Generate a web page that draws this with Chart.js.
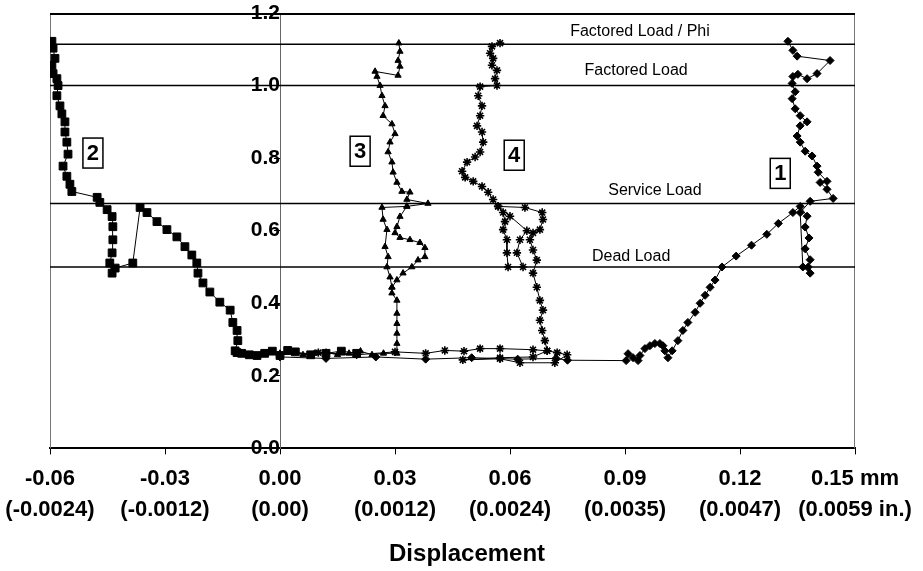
<!DOCTYPE html>
<html>
<head>
<meta charset="utf-8">
<script src="https://cdn.jsdelivr.net/npm/chart.js@4.4.1/dist/chart.umd.min.js"></script>
<style>
  body { margin: 0; background: #fff; }
  #wrap { width: 923px; height: 571px; }
</style>
</head>
<body>
<div id="wrap"><canvas id="load-chart" width="923" height="571"></canvas></div>
<script>
// tick labels
const xTickMm = ['-0.06', '-0.03', '0.00', '0.03', '0.06', '0.09', '0.12', '0.15 mm'];
const xTickIn = ['(-0.0024)', '(-0.0012)', '(0.00)', '(0.0012)', '(0.0024)', '(0.0035)', '(0.0047)', '(0.0059 in.)'];
const yTickLabels = ['0.0', '0.2', '0.4', '0.6', '0.8', '1.0', '1.2'];
const xTitle = 'Displacement';

// load levels (horizontal lines)
const loadNames = ['Factored Load / Phi', 'Factored Load', 'Service Load', 'Dead Load'];
const loadValues = [1.114, 1.0, 0.675, 0.5];
const loadLabelX = [0.0939, 0.0929, 0.0978, 0.0916];
const loadLabelY = [1.150, 1.042, 0.711, 0.528];

// gauge tags
const tagNames = ['1', '2', '3', '4'];
const tagX = [0.1305, -0.0488, 0.0209, 0.0611];
const tagY = [0.758, 0.814, 0.819, 0.808];

// gauge 1 (diamonds) [displacement mm, load ratio]
const gauge1 = [[0.000,0.252],[0.012,0.248],[0.025,0.252],[0.038,0.246],[0.050,0.250],[0.062,0.246],[0.072,0.248],[0.075,0.243],
  [0.0903,0.242],[0.0908,0.261],[0.0921,0.250],[0.0934,0.242],[0.0939,0.256],[0.0952,0.275],[0.0965,0.283],[0.0978,0.289],
  [0.0991,0.289],[0.0999,0.283],[0.1004,0.269],[0.1012,0.250],[0.1023,0.269],[0.1038,0.297],[0.1051,0.325],[0.1064,0.347],
  [0.1083,0.375],[0.1096,0.400],[0.1109,0.422],[0.1122,0.444],[0.1135,0.464],[0.1153,0.500],[0.1190,0.530],[0.1230,0.560],
  [0.1270,0.590],[0.1300,0.620],[0.1338,0.650],[0.1357,0.667],[0.1375,0.640],[0.1370,0.610],[0.1380,0.580],[0.1370,0.550],
  [0.1383,0.520],[0.1378,0.500],[0.1383,0.483],[0.1364,0.500],[0.1357,0.650],[0.1383,0.681],[0.1443,0.689],[0.1427,0.714],
  [0.1409,0.733],[0.1427,0.736],[0.1404,0.761],[0.1401,0.778],[0.1388,0.806],[0.1370,0.819],[0.1357,0.844],[0.1349,0.861],
  [0.1357,0.889],[0.1375,0.900],[0.1357,0.917],[0.1344,0.936],[0.1336,0.964],[0.1344,0.983],[0.1336,1.006],[0.1338,1.025],
  [0.1351,1.031],[0.1375,1.019],[0.1401,1.033],[0.1435,1.069],[0.1349,1.081],[0.1338,1.097],[0.1325,1.122]];

// gauge 2 (squares)
const gauge2 = [[0.020,0.262],[0.016,0.268],[0.012,0.262],[0.008,0.258],[0.004,0.266],[0.002,0.270],[0.000,0.256],
  [-0.002,0.268],[-0.004,0.262],[-0.006,0.256],[-0.008,0.258],[-0.010,0.262],[-0.0112,0.264],
  [-0.0117,0.269],[-0.0110,0.297],[-0.0112,0.325],[-0.0123,0.347],[-0.0130,0.381],[-0.0157,0.403],[-0.0183,0.431],
  [-0.0201,0.456],[-0.0214,0.483],[-0.0217,0.511],[-0.0230,0.533],[-0.0248,0.556],[-0.0269,0.583],[-0.0295,0.603],
  [-0.0321,0.625],[-0.0347,0.650],[-0.0365,0.664],[-0.0384,0.511],[-0.0430,0.497],[-0.0438,0.483],[-0.0444,0.511],
  [-0.0438,0.539],[-0.0436,0.575],[-0.0436,0.611],[-0.0438,0.639],[-0.0451,0.658],[-0.0470,0.678],[-0.0477,0.692],
  [-0.0543,0.708],[-0.0548,0.728],[-0.0556,0.750],[-0.0566,0.778],[-0.0553,0.811],[-0.0556,0.844],[-0.0561,0.872],
  [-0.0561,0.900],[-0.0569,0.922],[-0.0574,0.944],[-0.0582,0.972],[-0.0579,1.000],[-0.0582,1.019],[-0.0592,1.033],
  [-0.0595,1.056],[-0.0587,1.075],[-0.0592,1.103],[-0.0595,1.122]];

// gauge 3 (triangles), main path and the side branch
const gauge3 = [[0.000,0.262],[0.003,0.268],[0.006,0.258],[0.009,0.262],[0.012,0.265],[0.015,0.258],[0.018,0.262],
  [0.021,0.268],[0.024,0.258],[0.027,0.262],[0.0305,0.262],[0.0305,0.289],
  [0.0305,0.317],[0.0305,0.344],[0.0305,0.372],[0.0305,0.408],[0.0292,0.428],[0.0292,0.444],[0.0305,0.464],[0.0321,0.483],
  [0.0344,0.500],[0.0360,0.519],[0.0378,0.528],[0.0378,0.553],[0.0365,0.567],[0.0339,0.575],[0.0313,0.581],[0.0300,0.594],
  [0.0305,0.611],[0.0313,0.639],[0.0331,0.667],[0.0386,0.675],[0.0331,0.686],[0.0339,0.706],[0.0318,0.708],[0.0305,0.733],
  [0.0295,0.761],[0.0292,0.789],[0.0282,0.817],[0.0287,0.844],[0.0300,0.867],[0.0292,0.894],[0.0269,0.917],[0.0274,0.944],
  [0.0266,0.972],[0.0261,1.000],[0.0253,1.025],[0.0248,1.039],[0.0308,1.028],[0.0313,1.053],[0.0308,1.069],[0.0313,1.094],
  [0.0310,1.117]];
const gauge3Branch = [[0.0292,0.444],[0.0287,0.472],[0.0279,0.500],[0.0282,0.528],[0.0274,0.556],[0.0279,0.603],
  [0.0269,0.631],[0.0266,0.664],[0.0331,0.667]];

// gauge 4 (stars)
const gauge4 = [[0.000,0.258],[0.010,0.264],[0.020,0.258],[0.030,0.266],[0.038,0.262],[0.043,0.270],[0.048,0.268],
  [0.0522,0.275],[0.0574,0.275],[0.0660,0.272],[0.0697,0.269],[0.0723,0.264],[0.0749,0.258],[0.0717,0.236],[0.0626,0.236],
  [0.0574,0.247],[0.0477,0.244],[0.0574,0.250],[0.0660,0.252],[0.0697,0.269],[0.0691,0.297],[0.0684,0.325],[0.0678,0.353],
  [0.0686,0.381],[0.0678,0.408],[0.0670,0.444],[0.0660,0.483],[0.0670,0.519],[0.0660,0.547],[0.0652,0.575],[0.0660,0.594],
  [0.0678,0.603],[0.0686,0.631],[0.0684,0.650],[0.0639,0.664],[0.0569,0.667],[0.0582,0.650],[0.0587,0.625],[0.0582,0.603],
  [0.0592,0.575],[0.0592,0.539],[0.0595,0.500],[0.0634,0.500],[0.0618,0.539],[0.0626,0.575],[0.0644,0.600],[0.0600,0.640],
  [0.0569,0.667],[0.0556,0.686],[0.0543,0.706],[0.0527,0.722],[0.0504,0.736],[0.0483,0.747],[0.0475,0.764],[0.0488,0.789],
  [0.0509,0.803],[0.0522,0.817],[0.0530,0.844],[0.0527,0.872],[0.0514,0.889],[0.0522,0.917],[0.0527,0.944],[0.0517,0.972],
  [0.0522,0.997],[0.0566,1.000],[0.0561,1.019],[0.0566,1.042],[0.0553,1.056],[0.0556,1.075],[0.0548,1.089],[0.0553,1.108],
  [0.0574,1.117]];

const FONT = '"Liberation Sans", Arial, sans-serif';
const X_MIN = -0.06, X_MAX = 0.15;

function toPoints(arr) {
    return arr.map(p => ({ x: p[0], y: p[1] }));
}

function gaugeSet(arr, style, radius) {
    return {
        data: toPoints(arr),
        showLine: true,
        borderColor: '#000',
        backgroundColor: '#000',
        borderWidth: 1,
        pointStyle: style,
        pointRadius: radius,
        pointBorderWidth: style === 'star' ? 1.6 : 1,
        pointBorderColor: '#000',
        pointBackgroundColor: '#000',
        tension: 0
    };
}

const datasets = [];
loadValues.forEach(v => {
    datasets.push({
        data: [{ x: X_MIN, y: v }, { x: X_MAX, y: v }],
        showLine: true,
        borderColor: '#000',
        borderWidth: 1.5,
        pointRadius: 0
    });
});
datasets.push(gaugeSet(gauge1, 'rectRot', 4));
datasets.push(gaugeSet(gauge2, 'rect', 5.5));
datasets.push(gaugeSet(gauge3, 'triangle', 3.6));
datasets.push(gaugeSet(gauge3Branch, 'triangle', 3.6));
datasets.push(gaugeSet(gauge4, 'star', 4.2));

// frame round the plot and the text annotations
const framePlugin = {
    id: 'frame',
    beforeDatasetsDraw(chart) {
        const { ctx, chartArea: a } = chart;
        ctx.save();
        ctx.strokeStyle = '#777';
        ctx.lineWidth = 1;
        ctx.beginPath();
        ctx.moveTo(a.left + 0.5, a.bottom);
        ctx.lineTo(a.left + 0.5, a.top);
        ctx.moveTo(a.right - 0.5, a.top);
        ctx.lineTo(a.right - 0.5, a.bottom);
        ctx.stroke();
        ctx.strokeStyle = '#000';
        ctx.lineWidth = 2;
        ctx.beginPath();
        ctx.moveTo(a.left, a.top + 1);
        ctx.lineTo(a.right, a.top + 1);
        ctx.stroke();
        ctx.restore();
    },
    afterDatasetsDraw(chart) {
        const { ctx, scales } = chart;
        const xs = scales.x, ys = scales.y;
        ctx.save();
        ctx.fillStyle = '#000';
        ctx.textAlign = 'center';
        ctx.textBaseline = 'middle';
        ctx.font = '16px ' + FONT;
        loadNames.forEach((name, i) => {
            ctx.fillText(name, xs.getPixelForValue(loadLabelX[i]), ys.getPixelForValue(loadLabelY[i]));
        });
        ctx.font = 'bold 22px ' + FONT;
        ctx.lineWidth = 1.5;
        ctx.strokeStyle = '#000';
        tagNames.forEach((t, i) => {
            const px = xs.getPixelForValue(tagX[i]);
            const py = ys.getPixelForValue(tagY[i]);
            ctx.fillStyle = '#fff';
            ctx.fillRect(px - 10, py - 15, 20, 30);
            ctx.strokeRect(px - 10, py - 15, 20, 30);
            ctx.fillStyle = '#000';
            ctx.fillText(t, px, py + 1);
        });
        // axis title, sits a little right of the plot centre as in the source figure
        ctx.font = 'bold 24px ' + FONT;
        ctx.fillText(xTitle, xs.getPixelForValue(0.0488), chart.height - 17);
        ctx.restore();
    }
};

new Chart(document.getElementById('load-chart'), {
    type: 'scatter',
    data: { datasets: datasets },
    plugins: [framePlugin],
    options: {
        responsive: false,
        animation: false,
        devicePixelRatio: 1,
        layout: { padding: { left: 50, right: 68, top: 13, bottom: 37 } },
        plugins: {
            legend: { display: false },
            tooltip: { enabled: false }
        },
        scales: {
            x: {
                type: 'linear',
                min: X_MIN,
                max: X_MAX,
                afterFit: scale => { scale.paddingLeft = 0; scale.paddingRight = 0; },
                ticks: {
                    stepSize: 0.03,
                    color: '#000',
                    padding: 9,
                    maxRotation: 0,
                    autoSkip: false,
                    font: { family: FONT, size: 22, weight: 'bold', lineHeight: 1.4 },
                    callback: (v, i) => [xTickMm[i], xTickIn[i]]
                },
                grid: { drawOnChartArea: false, drawTicks: true, tickLength: 6, color: '#000' },
                border: { color: '#000', width: 2 }
            },
            y: {
                type: 'linear',
                position: { x: 0 },
                min: 0,
                max: 1.2,
                afterFit: scale => { scale.paddingTop = 0; scale.paddingBottom = 0; },
                ticks: {
                    stepSize: 0.2,
                    color: '#000',
                    padding: 4,
                    font: { family: FONT, size: 21, weight: 'bold', lineHeight: 1 },
                    callback: (v, i) => yTickLabels[i]
                },
                grid: { drawOnChartArea: false, drawTicks: true, tickLength: 6, color: '#000' },
                border: { color: '#666', width: 1 }
            }
        }
    }
});
</script>
</body>
</html>
